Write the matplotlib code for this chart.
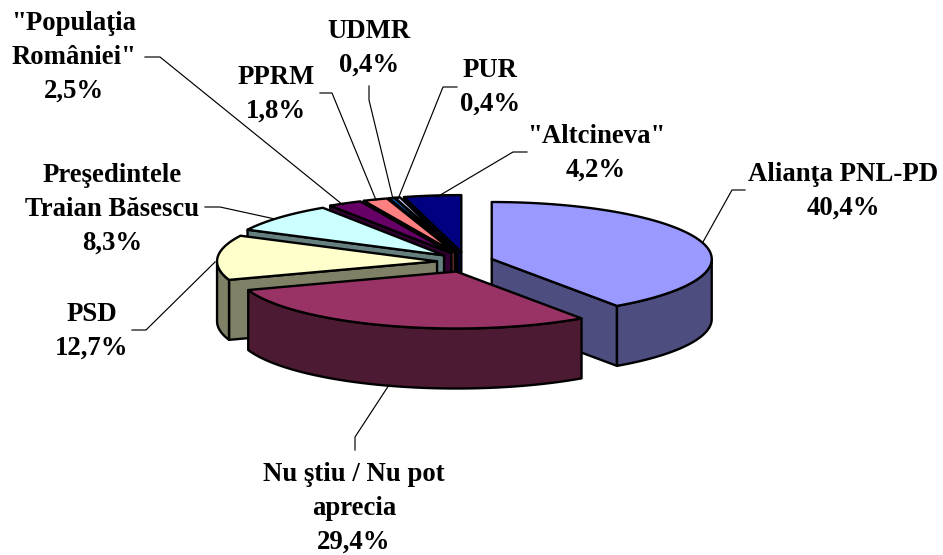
import numpy as np
import matplotlib
matplotlib.use('Agg')
import matplotlib.pyplot as plt

# values
labels = [u'Alianţa PNL-PD', u'Nu ştiu / Nu pot\naprecia', 'PSD', u'Preşedintele\nTraian Băsescu',
          u'"Populaţia\nRomâniei"', 'PPRM', 'UDMR', 'PUR', '"Altcineva"']
values = [40.4, 29.4, 12.7, 8.3, 2.5, 1.8, 0.4, 0.4, 4.2]
top_colors = ['#9999FF', '#993366', '#FFFFCC', '#CCFFFF', '#660066', '#FF8080', '#0066CC', '#CCCCFF', '#000080']
side_colors = ['#4D4D80', '#4D1A33', '#808066', '#668080', '#330033', '#804040', '#003366', '#666680', '#000040']

# first baseline and centre of each label block, in pixels
label_x = [843, 354, 92, 112, 74, 276, 369, 490, 596]
label_y = [181, 481, 321, 182, 30, 84, 38, 77, 143]

# leader lines, in pixels
leaders = [
    [(703, 242), (732, 190), (745, 190)],
    [(389, 385), (355, 437), (355, 450)],
    [(215, 262), (146, 330), (132, 330)],
    [(275, 219), (220, 207), (205, 207)],
    [(343, 205), (160, 57), (145, 57)],
    [(376, 200), (332, 93), (320, 93)],
    [(393, 199), (369, 100), (369, 86)],
    [(398, 199), (443, 87), (457, 87)],
    [(437, 197), (513, 152), (527, 152)],
]

CX, CY = 465, 262      # pie centre
RX, RY = 220, 57       # top ellipse radii
DEPTH = 60             # height of the pie
EX, EY = 28, 10        # explode offset
LINE_W = 1.7
LINE_H = 34


def ellipse_pts(cx, cy, a1, a2):
    n = max(2, int(abs(a2 - a1) * 2))
    t = np.radians(np.linspace(a1, a2, n))
    return np.column_stack([cx + RX * np.sin(t), cy - RY * np.cos(t)])


def face(ax, pts, color):
    ax.fill(pts[:, 0], pts[:, 1], facecolor=color, edgecolor='black', linewidth=LINE_W, joinstyle='round')


def drop(pts):
    # extrude a top edge down to the bottom of the pie
    low = pts[::-1] + [0, DEPTH]
    return np.vstack([pts, low])


fig = plt.figure(figsize=(9.43, 5.55), dpi=100, facecolor='white')
ax = fig.add_axes([0, 0, 1, 1])
ax.set_xlim(0, 943)
ax.set_ylim(555, 0)
ax.axis('off')

shares = np.array(values) / sum(values) * 360
ends = np.cumsum(shares)
starts = ends - shares

# back slices first, the front one last
order = [8, 7, 6, 5, 4, 3, 2, 0, 1]
for i in order:
    a1, a2 = starts[i], ends[i]
    mid = np.radians((a1 + a2) / 2)
    cx = CX + EX * np.sin(mid)
    cy = CY - EY * np.cos(mid)
    apex = np.array([[cx, cy]])

    # radial walls that face the viewer
    for a, sign in ((a1, 1), (a2, -1)):
        if sign * np.sin(np.radians(a)) < -1e-6:
            edge = np.vstack([apex, ellipse_pts(cx, cy, a, a)[:1]])
            face(ax, drop(edge), side_colors[i])

    # outer wall, only the front half of the circle shows
    lo, hi = max(a1, 90), min(a2, 270)
    if hi > lo:
        face(ax, drop(ellipse_pts(cx, cy, lo, hi)), side_colors[i])

    # top
    face(ax, np.vstack([apex, ellipse_pts(cx, cy, a1, a2)]), top_colors[i])

for line in leaders:
    xs, ys = zip(*line)
    ax.plot(xs, ys, color='black', linewidth=0.85)

for name, val, x, y in zip(labels, values, label_x, label_y):
    rows = name.split('\n') + [f'{val:.1f}%'.replace('.', ',')]
    for k, row in enumerate(rows):
        ax.text(x, y + k * LINE_H, row, ha='center', va='baseline', color='black',
                family='Liberation Serif', weight='bold', fontsize=19.3)

plt.savefig('out.png', dpi=100, facecolor='white')
plt.close()
